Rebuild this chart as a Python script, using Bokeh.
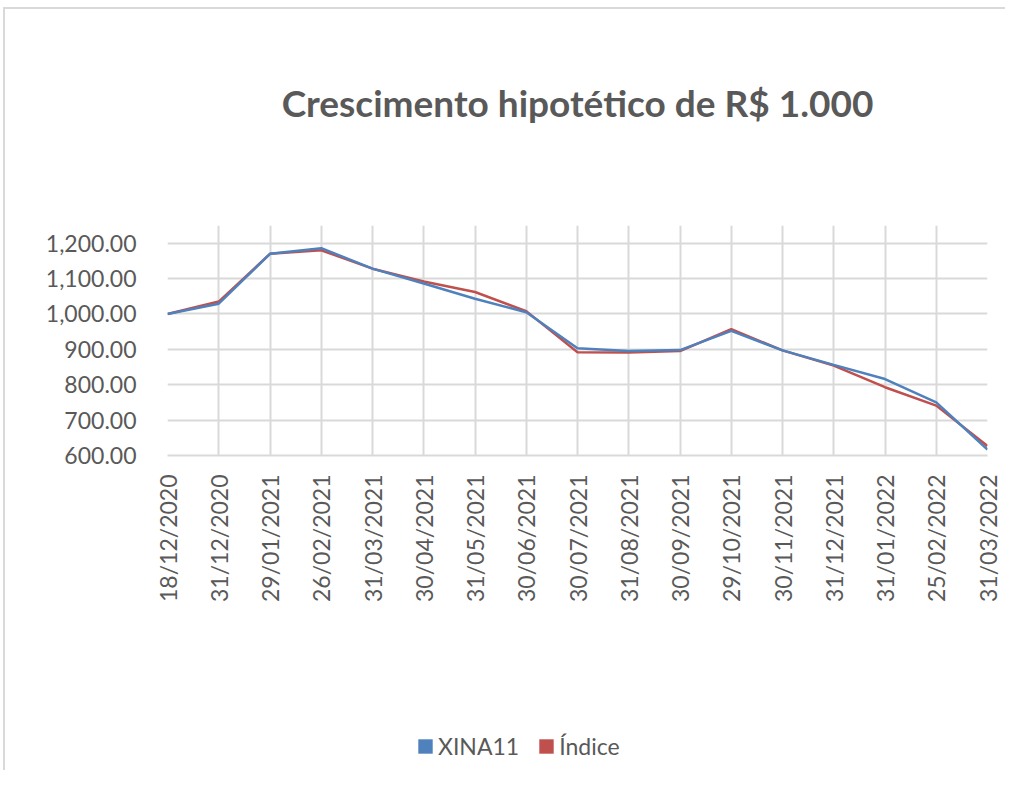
from bokeh.plotting import figure
from bokeh.layouts import column
from bokeh.models import (FixedTicker, NumeralTickFormatter, Range1d, Legend, LegendItem, ColumnDataSource)
from bokeh.embed import file_html
from bokeh.resources import INLINE
import math

dates = ["18/12/2020", "31/12/2020", "29/01/2021", "26/02/2021", "31/03/2021", "30/04/2021",
         "31/05/2021", "30/06/2021", "30/07/2021", "31/08/2021", "30/09/2021", "29/10/2021",
         "30/11/2021", "31/12/2021", "31/01/2022", "25/02/2022", "31/03/2022"]
xina11 = [1000, 1029, 1170, 1186, 1128, 1086, 1043, 1005, 903, 895, 898, 952, 897, 856, 816, 750, 617]
indice = [1000, 1035, 1170, 1180, 1128, 1092, 1062, 1008, 892, 891, 895, 957, 897, 854, 793, 741, 627]
y_ticks = [600, 700, 800, 900, 1000, 1100, 1200]
title_text = "Crescimento hipotético de R$ 1.000"

FONT = "Lato"
GRAY = "#595959"
GRID = "#d9d9d9"
BLUE = "#4F81BD"
RED = "#C0504D"

idx = list(range(len(dates)))
src = ColumnDataSource(dict(x=idx, xina=xina11, ind=indice))

# title strip
t = figure(width=1000, height=120, output_backend="svg", toolbar_location=None,
           x_range=Range1d(0, len(dates) - 1), y_range=Range1d(600, 1250),
           x_axis_type=None, y_axis_type=None,
           min_border_top=115, min_border_bottom=0, min_border_left=0, min_border_right=0)
t.outline_line_color = None
t.grid.visible = False
t.title.text = title_text
t.title.text_font = FONT
t.title.text_font_size = "37px"
t.title.text_font_style = "bold"
t.title.text_color = GRAY
t.title.align = "center"
t.title.vertical_align = "bottom"
t.title.standoff = 0

# main chart
p = figure(width=1000, height=571, output_backend="svg", toolbar_location=None,
           x_range=Range1d(0, len(dates) - 1), y_range=Range1d(600, 1250),
           min_border_left=162, min_border_right=18, min_border_top=96, min_border_bottom=245)
p.outline_line_color = None

r_ind = p.line("x", "ind", source=src, line_color=RED, line_width=2.5)
r_xina = p.line("x", "xina", source=src, line_color=BLUE, line_width=2.5)

p.xaxis.ticker = FixedTicker(ticks=idx)
p.xaxis.major_label_overrides = {i: d for i, d in enumerate(dates)}
p.xaxis.major_label_orientation = math.pi / 2
p.yaxis.ticker = FixedTicker(ticks=y_ticks)
p.yaxis.formatter = NumeralTickFormatter(format="0,0.00")

for ax in (p.xaxis, p.yaxis):
    ax.major_label_text_font = FONT
    ax.major_label_text_font_size = "23px"
    ax.major_label_text_color = GRAY
    ax.major_tick_line_color = None
    ax.minor_tick_line_color = None
p.yaxis.axis_line_color = None
p.xaxis.axis_line_color = GRID
p.xaxis.axis_line_width = 2
p.xaxis.major_label_standoff = 13
p.yaxis.major_label_standoff = 25

p.xgrid.ticker = FixedTicker(ticks=idx)
p.ygrid.ticker = FixedTicker(ticks=y_ticks)
p.xgrid.grid_line_color = GRID
p.ygrid.grid_line_color = GRID
p.xgrid.grid_line_width = 2
p.ygrid.grid_line_width = 2

# legend strip below the chart
q = figure(width=1000, height=70, output_backend="svg", toolbar_location=None,
           x_range=Range1d(0, len(dates) - 1), y_range=Range1d(600, 1250),
           x_axis_type=None, y_axis_type=None, min_border=0)
q.outline_line_color = None
q.grid.visible = False
k_xina = q.vbar(x="x", top="xina", bottom="xina", width=0.5, source=src,
                fill_color=BLUE, line_color=None, visible=False)
k_ind = q.vbar(x="x", top="ind", bottom="ind", width=0.5, source=src,
               fill_color=RED, line_color=None, visible=False)
legend = Legend(items=[LegendItem(label="XINA11", renderers=[k_xina]),
                       LegendItem(label="Índice", renderers=[k_ind])],
                orientation="horizontal", location=(249, 10),
                label_text_font=FONT, label_text_font_size="23px", label_text_color=GRAY,
                glyph_width=18, glyph_height=18, spacing=18, label_standoff=4,
                margin=0, padding=0, inactive_fill_alpha=0,
                border_line_color=None, background_fill_alpha=0)
q.add_layout(legend, "center")

layout = column(t, p, q, spacing=0)
layout.styles = {"border-top": "2px solid #d9d9d9", "border-left": "2px solid #d9d9d9",
                 "margin-top": "7px", "margin-left": "3px"}

open("out.html", "w").write(file_html(layout, INLINE))
